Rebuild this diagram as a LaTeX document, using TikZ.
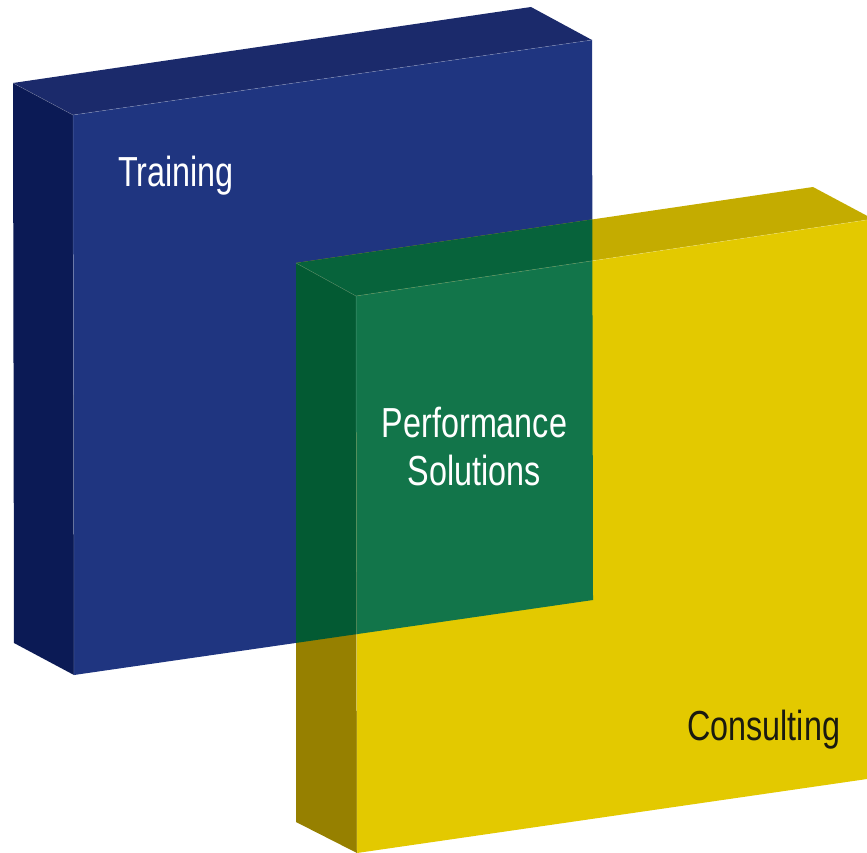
\documentclass[tikz,border=0pt]{standalone}
\usepackage{fontspec}
\newfontfamily\boxfont[FakeStretch=0.77]{Liberation Sans}

% face colours of the two slabs and of their overlap
\definecolor{blueTop}{HTML}{1B2A6B}
\definecolor{blueSide}{HTML}{0B1A55}
\definecolor{blueFront}{HTML}{1F3580}
\definecolor{yellowTop}{HTML}{C4AC00}
\definecolor{yellowSide}{HTML}{968000}
\definecolor{yellowFront}{HTML}{E3C900}
\definecolor{greenTop}{HTML}{07633B}
\definecolor{greenSide}{HTML}{035A33}
\definecolor{greenFront}{HTML}{12754A}
\definecolor{inkDark}{HTML}{1A1A10}

\tikzset{
  edge/.style={line width=0.5pt, draw=white, opacity=0.25},
  boxlabel/.style={font=\boxfont\fontsize{42}{48}\selectfont, inner sep=0pt}
}

\begin{document}
\begin{tikzpicture}[x=1pt,y=-1pt]
  \useasboundingbox (0,0) rectangle (867,853);
  \clip (0,0) rectangle (867,853);

  % blue slab corners
  \coordinate (bA) at (13,83);
  \coordinate (bB) at (531,7);
  \coordinate (bC) at (73,115);
  \coordinate (bD) at (592,40);
  \coordinate (bE) at (74,675);
  \coordinate (bF) at (14,643);
  \coordinate (bG) at (593,600);
  % yellow slab corners
  \coordinate (yA) at (296,263);
  \coordinate (yB) at (813,187);
  \coordinate (yC) at (356,296);
  \coordinate (yD) at (873,219);
  \coordinate (yE) at (357,853);
  \coordinate (yF) at (296,822);
  \coordinate (yG) at (874,778);

  % blue slab
  \fill[blueTop] (bA) -- (bB) -- (bD) -- (bC) -- cycle;
  \fill[blueSide] (bA) -- (bC) -- (bE) -- (bF) -- cycle;
  \fill[blueFront] (bC) -- (bD) -- (bG) -- (bE) -- cycle;
  \draw[edge] (bA) -- (bC) -- (bD);
  \draw[edge] (bC) -- (bE);

  % yellow slab
  \fill[yellowTop] (yA) -- (yB) -- (yD) -- (yC) -- cycle;
  \fill[yellowSide] (yA) -- (yC) -- (yE) -- (yF) -- cycle;
  \fill[yellowFront] (yC) -- (yD) -- (yG) -- (yE) -- cycle;

  % overlap
  \begin{scope}
    \clip (bC) -- (bD) -- (bG) -- (bE) -- cycle;
    \fill[greenTop] (yA) -- (yB) -- (yD) -- (yC) -- cycle;
    \fill[greenSide] (yA) -- (yC) -- (yE) -- (yF) -- cycle;
    \fill[greenFront] (yC) -- (yD) -- (yG) -- (yE) -- cycle;
  \end{scope}
  \draw[edge] (yA) -- (yC) -- (yD);
  \draw[edge] (yC) -- (yE);

  % labels
  \node[boxlabel, white, anchor=base west] (training) at (118,187) {Training};
  \node[boxlabel, white, align=center, anchor=north] (perf) at (474.5,407)
    {Performance\\Solutions};
  \node[boxlabel, inkDark, anchor=base west] (consulting) at (687,740) {Consulting};
\end{tikzpicture}
\end{document}
